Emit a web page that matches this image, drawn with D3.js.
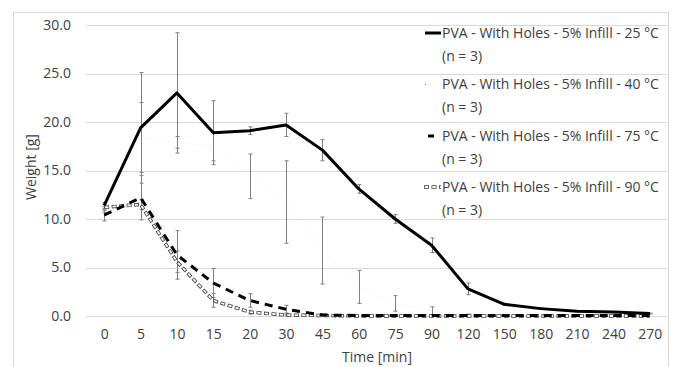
<!DOCTYPE html>
<html>
<head>
<meta charset="utf-8">
<script src="https://cdn.jsdelivr.net/npm/d3@7"></script>
<style>
  body { margin: 0; background: #fff; }
  svg text { font-family: "Open Sans", "Liberation Sans", Arial, sans-serif; fill: #404040; }
</style>
</head>
<body>
<div id="chart"></div>
<script>
var categories = ["0", "5", "10", "15", "20", "30", "45", "60", "75", "90", "120", "150", "180", "210", "240", "270"];
var yTicks = [0, 5, 10, 15, 20, 25, 30];

var mean25 = [11.4, 19.4, 23.0, 18.9, 19.1, 19.7, 17.1, 13.1, 10.0, 7.3, 2.8, 1.2, 0.76, 0.5, 0.4, 0.25];
var err25 = [0.3, 5.7, 6.2, 3.3, 0.4, 1.2, 1.1, 0.45, 0.45, 0.75, 0.6, 0.1, 0.1, 0.05, 0.05, 0.05];
var mean40 = [11.0, 18.4, 17.9, 17.5, 14.4, 11.75, 6.75, 3.0, 1.3, 0.55, 0.1, 0, 0, 0, 0, 0];
var err40 = [0.3, 3.6, 0.6, 1.5, 2.3, 4.25, 3.45, 1.7, 0.8, 0.4, 0.1, 0, 0, 0, 0, 0];
var mean75 = [10.4, 12.2, 6.3, 3.4, 1.6, 0.7, 0.1, 0.05, 0.05, 0.05, 0.05, 0.05, 0.05, 0.05, 0.05, 0.05];
var err75 = [0.6, 2.3, 2.5, 1.5, 0.7, 0.4, 0.1, 0, 0, 0, 0, 0, 0, 0, 0, 0];
var mean90 = [11.2, 11.5, 5.6, 1.6, 0.4, 0.1, 0.05, 0, 0, 0, 0, 0, 0, 0, 0, 0];
var err90 = [0.3, 0.5, 1.1, 0.7, 0.2, 0.1, 0, 0, 0, 0, 0, 0, 0, 0, 0, 0];

var seriesNames = [
  "PVA - With Holes - 5% Infill - 25 °C",
  "PVA - With Holes - 5% Infill - 40 °C",
  "PVA - With Holes - 5% Infill - 75 °C",
  "PVA - With Holes - 5% Infill - 90 °C"
];

var width = 679, height = 367;
var plot = { left: 86, right: 668, top: 25, bottom: 316 };
var fontSize = "14px";

var svg = d3.select("#chart").append("svg")
  .attr("width", width)
  .attr("height", height);

// chart border
svg.append("rect")
  .attr("x", 13.5).attr("y", 12.5)
  .attr("width", 655).attr("height", 360)
  .attr("fill", "none")
  .attr("stroke", "#d9d9d9");

var x = d3.scalePoint().domain(categories).range([plot.left, plot.right]).padding(0.5);
var y = d3.scaleLinear().domain([0, 30]).range([plot.bottom, plot.top]);

// gridlines
svg.append("g")
  .selectAll("line")
  .data(yTicks)
  .enter()
  .append("line")
  .attr("x1", plot.left).attr("x2", plot.right - 1)
  .attr("y1", function (d) { return Math.round(y(d)) + 0.5; })
  .attr("y2", function (d) { return Math.round(y(d)) + 0.5; })
  .attr("stroke", "#d9d9d9")
  .attr("stroke-width", 1);

// y axis
var yAxis = d3.axisLeft(y).tickValues(yTicks).tickFormat(d3.format(".1f")).tickSize(0).tickPadding(0);
svg.append("g")
  .attr("transform", "translate(71,0)")
  .call(yAxis)
  .call(function (g) { g.select(".domain").remove(); })
  .selectAll("text")
  .attr("font-size", fontSize)
  .attr("font-family", null)
  .attr("fill", "#404040");

// x axis
var xAxis = d3.axisBottom(x).tickSize(0).tickPadding(0);
svg.append("g")
  .attr("transform", "translate(0,329)")
  .call(xAxis)
  .call(function (g) { g.select(".domain").remove(); })
  .selectAll("text")
  .attr("font-size", fontSize)
  .attr("font-family", null)
  .attr("fill", "#404040");

svg.append("text")
  .attr("x", (plot.left + plot.right) / 2)
  .attr("y", 362)
  .attr("text-anchor", "middle")
  .attr("font-size", fontSize)
  .text("Time [min]");

svg.append("text")
  .attr("transform", "translate(36,167) rotate(-90)")
  .attr("text-anchor", "middle")
  .attr("font-size", fontSize)
  .text("Weight [g]");

// error bars
function drawErrors(means, errs) {
  var g = svg.append("g").attr("stroke", "#7f7f7f").attr("stroke-width", 1);
  means.forEach(function (m, i) {
    if (!errs[i]) return;
    var cx = Math.round(x(categories[i])) + 0.5;
    var top = y(m + errs[i]), bot = y(Math.max(0, m - errs[i]));
    g.append("line").attr("x1", cx).attr("x2", cx).attr("y1", top).attr("y2", bot);
    g.append("line").attr("x1", cx - 2).attr("x2", cx + 2).attr("y1", top).attr("y2", top);
    g.append("line").attr("x1", cx - 2).attr("x2", cx + 2).attr("y1", bot).attr("y2", bot);
  });
}
drawErrors(mean25, err25);
drawErrors(mean40, err40);
drawErrors(mean75, err75);
drawErrors(mean90, err90);

var line = d3.line()
  .x(function (d, i) { return x(categories[i]); })
  .y(function (d) { return y(d); });

// 40 °C: barely visible light dotted line
svg.append("path").datum(mean40).attr("d", line)
  .attr("fill", "none").attr("stroke", "#f0f0f0").attr("stroke-width", 1)
  .attr("stroke-dasharray", "1,3");

// 90 °C: white dashes with dark outline
svg.append("path").datum(mean90).attr("d", line)
  .attr("fill", "none").attr("stroke", "#404040").attr("stroke-width", 3.4)
  .attr("stroke-dasharray", "5,2.5");
svg.append("path").datum(mean90).attr("d", line)
  .attr("fill", "none").attr("stroke", "#fff").attr("stroke-width", 1.8)
  .attr("stroke-dasharray", "3.4,4.1").attr("stroke-dashoffset", "-0.8");

// 75 °C: black dashes
svg.append("path").datum(mean75).attr("d", line)
  .attr("fill", "none").attr("stroke", "#000").attr("stroke-width", 3)
  .attr("stroke-dasharray", "8,6");

// 25 °C: solid black
svg.append("path").datum(mean25).attr("d", line)
  .attr("fill", "none").attr("stroke", "#000").attr("stroke-width", 3)
  .attr("stroke-linejoin", "round");

// legend
var legendY = [33, 84, 136, 187];
var legend = svg.append("g");
seriesNames.forEach(function (name, i) {
  var ly = legendY[i];
  var t = legend.append("text").attr("x", 442).attr("y", ly + 5).attr("font-size", fontSize);
  t.append("tspan").attr("x", 442).text(name);
  t.append("tspan").attr("x", 442).attr("dy", 23).text("(n = 3)");
});
legend.append("line").attr("x1", 425).attr("x2", 441).attr("y1", 33).attr("y2", 33)
  .attr("stroke", "#000").attr("stroke-width", 3);
legend.append("rect").attr("x", 425).attr("y", 84).attr("width", 1).attr("height", 1).attr("fill", "#777");
legend.append("line").attr("x1", 428).attr("x2", 434).attr("y1", 136).attr("y2", 136)
  .attr("stroke", "#000").attr("stroke-width", 3);
legend.append("line").attr("x1", 424).attr("x2", 441).attr("y1", 187).attr("y2", 187)
  .attr("stroke", "#404040").attr("stroke-width", 3.4).attr("stroke-dasharray", "5,2.5");
legend.append("line").attr("x1", 424).attr("x2", 441).attr("y1", 187).attr("y2", 187)
  .attr("stroke", "#fff").attr("stroke-width", 1.8)
  .attr("stroke-dasharray", "3.4,4.1").attr("stroke-dashoffset", "-0.8");
</script>
</body>
</html>
